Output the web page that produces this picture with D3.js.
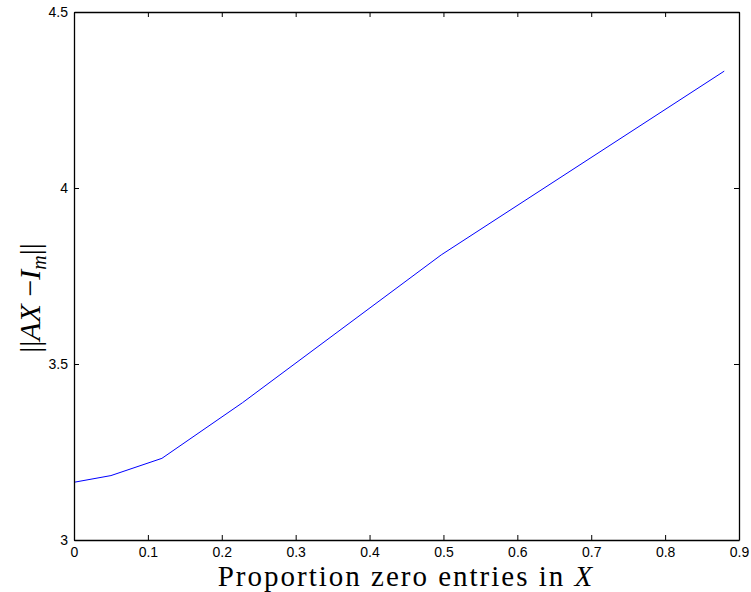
<!DOCTYPE html>
<html>
<head>
<meta charset="utf-8">
<script src="https://cdn.jsdelivr.net/npm/d3@7"></script>
<style>
  body { margin: 0; background: #fff; }
  svg { display: block; }
</style>
</head>
<body>
<div id="wrapper"></div>
<script>
// data
const proportion = [0, 0.05, 0.119, 0.228, 0.497, 0.88]
const normValue = [3.164, 3.183, 3.232, 3.39, 3.81, 4.332]
const xTicks = [0, 0.1, 0.2, 0.3, 0.4, 0.5, 0.6, 0.7, 0.8, 0.9]
const yTicks = [3, 3.5, 4, 4.5]

const dataset = proportion.map((p, i) => ({x: p, y: normValue[i]}))

const dimensions = {
  width: 751,
  height: 592,
  margin: {top: 12, right: 12, bottom: 52, left: 74},
}
dimensions.boundedWidth = dimensions.width - dimensions.margin.left - dimensions.margin.right
dimensions.boundedHeight = dimensions.height - dimensions.margin.top - dimensions.margin.bottom

const wrapper = d3.select("#wrapper")
  .append("svg")
    .attr("width", dimensions.width)
    .attr("height", dimensions.height)

const bounds = wrapper.append("g")
  .attr("transform", `translate(${dimensions.margin.left},${dimensions.margin.top})`)

const xScaler = d3.scaleLinear()
  .domain([0, 0.9])
  .range([0, dimensions.boundedWidth])

const yScaler = d3.scaleLinear()
  .domain([3, 4.5])
  .range([dimensions.boundedHeight, 0])

// line
const lineGen = d3.line()
  .x(d => xScaler(d.x))
  .y(d => yScaler(d.y))

bounds.append("path")
  .datum(dataset)
  .attr("d", lineGen)
  .attr("fill", "none")
  .attr("stroke", "#0000ff")
  .attr("stroke-width", 1)

// axes, matlab style: ticks pointing inward, box all round
const tickFont = "Liberation Sans, Arial, sans-serif"
const fmt = d => d3.format("")(d)

const xAxis = bounds.append("g")
  .attr("transform", `translate(0,${dimensions.boundedHeight})`)
  .call(d3.axisBottom(xScaler).tickValues(xTicks).tickFormat(fmt).tickSizeInner(-5).tickSizeOuter(0).tickPadding(7))
const xTop = bounds.append("g")
  .call(d3.axisTop(xScaler).tickValues(xTicks).tickFormat("").tickSizeInner(-5).tickSizeOuter(0))
const yAxis = bounds.append("g")
  .call(d3.axisLeft(yScaler).tickValues(yTicks).tickFormat(fmt).tickSizeInner(-5).tickSizeOuter(0).tickPadding(6))
const yRight = bounds.append("g")
  .attr("transform", `translate(${dimensions.boundedWidth},0)`)
  .call(d3.axisRight(yScaler).tickValues(yTicks).tickFormat("").tickSizeInner(-5).tickSizeOuter(0))

;[xAxis, xTop, yAxis, yRight].forEach(ax => {
  ax.select(".domain").attr("stroke", "#000").attr("stroke-width", 1.3)
  ax.selectAll(".tick line").attr("stroke", "#000")
  ax.selectAll("text")
    .attr("font-family", tickFont)
    .attr("font-size", 14)
    .attr("fill", "#000")
})
yAxis.selectAll("text").attr("dy", "0.3em")

// axis labels
const labelFont = "Liberation Serif, DejaVu Serif, serif"

const xLabel = wrapper.append("text")
  .attr("x", 406)
  .attr("y", 586)
  .attr("text-anchor", "middle")
  .attr("font-family", labelFont)
  .attr("font-size", 29)
  .attr("letter-spacing", 2)
xLabel.append("tspan").text("Proportion zero entries in ")
xLabel.append("tspan").attr("font-style", "italic").text("X")

const yLabel = wrapper.append("text")
  .attr("transform", "translate(40,298) rotate(-90)")
  .attr("text-anchor", "middle")
  .attr("font-family", labelFont)
  .attr("font-size", 30)
yLabel.append("tspan").text("||")
yLabel.append("tspan").attr("font-style", "italic").text("AX")
yLabel.append("tspan").text(" \u2212")
yLabel.append("tspan").attr("font-style", "italic").text("I")
yLabel.append("tspan").attr("font-style", "italic").attr("font-size", 20).attr("dy", 6).text("m")
yLabel.append("tspan").attr("dy", -6).text("||")
</script>
</body>
</html>
